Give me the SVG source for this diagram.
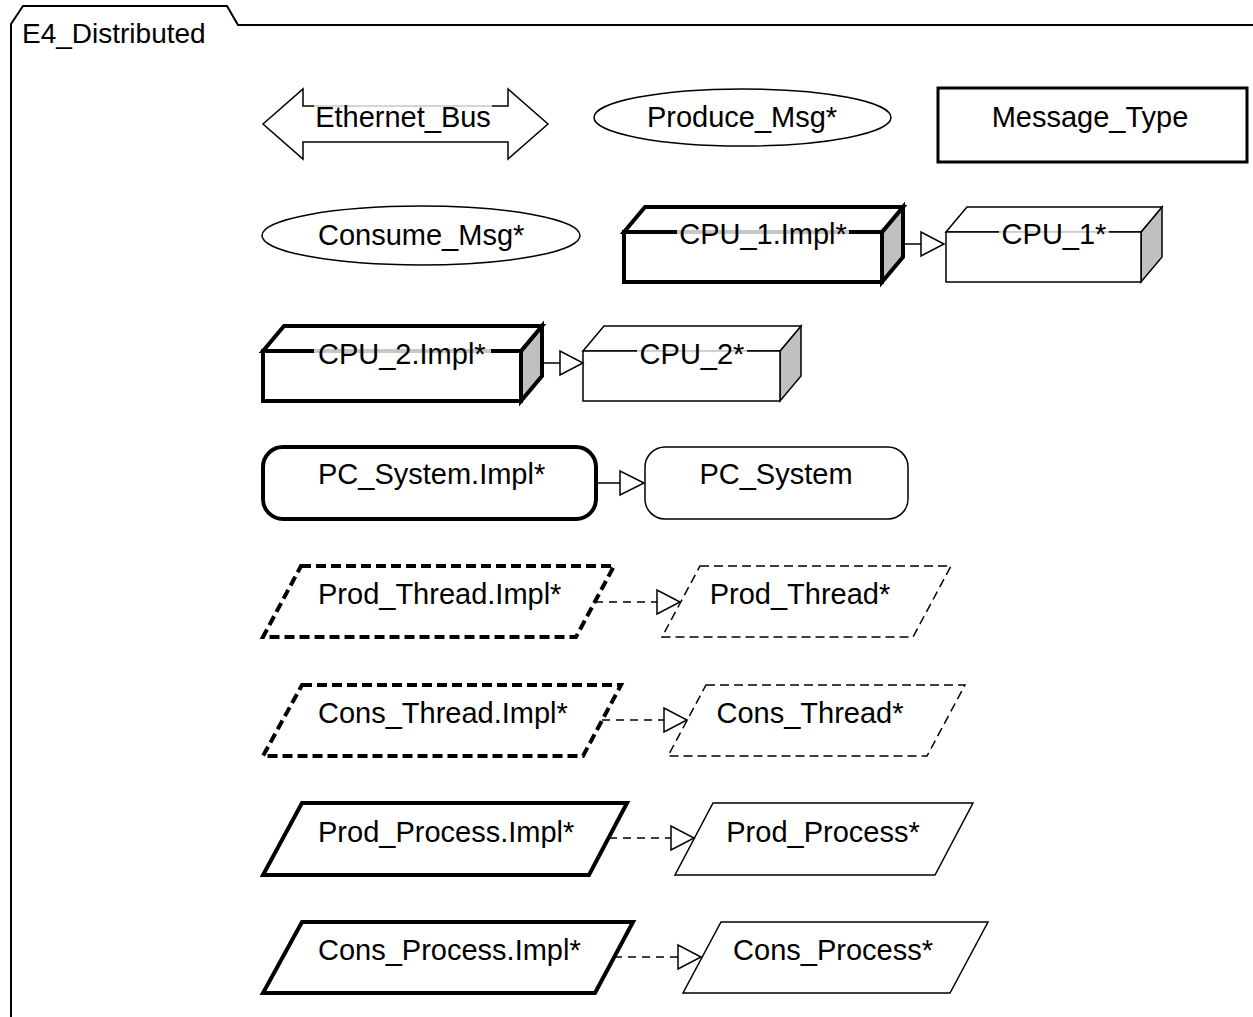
<svg xmlns="http://www.w3.org/2000/svg" width="1253" height="1017" viewBox="0 0 1253 1017">
<style>
text{font-family:"Liberation Sans",Arial,sans-serif;font-size:29px;fill:#000}
.title{font-size:28px}
.thin{fill:#fff;stroke:#000;stroke-width:1.5}
.thick{fill:#fff;stroke:#000;stroke-width:4;stroke-linejoin:miter}
.side{fill:#c0c0c0}
.dthin{fill:#fff;stroke:#000;stroke-width:1.5;stroke-dasharray:9 5}
.dthick{fill:#fff;stroke:#000;stroke-width:4;stroke-dasharray:10 5}
.hl{fill:#fff;fill-opacity:0.78}
.cl{fill:none;stroke:#000;stroke-width:1.5}
.cd{fill:none;stroke:#000;stroke-width:1.5;stroke-dasharray:8 6}
.tri{fill:#fff;stroke:#000;stroke-width:1.5}
</style>
<g id="frame">
<path d="M11,1017 L11,24 L23,6 L227,6 L238,25 L1253,25" fill="none" stroke="#000" stroke-width="2"/>
<text class="title" x="22" y="43">E4_Distributed</text>
</g>
<g id="ethernet_bus">
<path class="thin" d="M263,124 L303,89 L303,106 L508,106 L508,89 L548,124 L508,159 L508,142 L303,142 L303,159 Z"/>
<rect class="hl" x="314" y="103" width="178" height="6"/>
<text x="403" y="127" text-anchor="middle">Ethernet_Bus</text>
</g>
<g id="produce_msg">
<ellipse class="thin" cx="742.5" cy="117.5" rx="148.5" ry="28.5"/>
<text x="742" y="127" text-anchor="middle">Produce_Msg*</text>
</g>
<g id="message_type">
<rect x="938" y="88" width="309" height="74" fill="#fff" stroke="#000" stroke-width="3"/>
<text x="1090" y="127" text-anchor="middle">Message_Type</text>
</g>
<g id="consume_msg">
<ellipse class="thin" cx="421" cy="235.5" rx="159" ry="29.5"/>
<text x="318" y="245">Consume_Msg*</text>
</g>
<g id="cpu_1_impl">
<path class="thick side" d="M882,232 L903,207 L903,257 L882,282 Z"/>
<path class="thick" d="M624,232 L645,207 L903,207 L882,232 Z"/>
<rect class="thick" x="624" y="232" width="258" height="50"/>
<rect class="hl" x="677" y="229" width="172" height="6"/>
<text x="763" y="244" text-anchor="middle">CPU_1.Impl*</text>
</g>
<g id="cpu_1">
<path class="thin side" d="M1141,232 L1162,207 L1162,257 L1141,282 Z"/>
<path class="thin" d="M946,232 L967,207 L1162,207 L1141,232 Z"/>
<rect class="thin" x="946" y="232" width="195" height="50"/>
<rect class="hl" x="999" y="230" width="110" height="4"/>
<text x="1054" y="244" text-anchor="middle">CPU_1*</text>
</g>
<g id="cpu_2_impl">
<path class="thick side" d="M521,351 L542,326 L542,376 L521,401 Z"/>
<path class="thick" d="M263,351 L284,326 L542,326 L521,351 Z"/>
<rect class="thick" x="263" y="351" width="258" height="50"/>
<rect class="hl" x="314" y="348" width="177" height="6"/>
<text x="318" y="364">CPU_2.Impl*</text>
</g>
<g id="cpu_2">
<path class="thin side" d="M780,351 L801,326 L801,376 L780,401 Z"/>
<path class="thin" d="M583,351 L604,326 L801,326 L780,351 Z"/>
<rect class="thin" x="583" y="351" width="197" height="50"/>
<rect class="hl" x="637" y="349" width="110" height="4"/>
<text x="692" y="364" text-anchor="middle">CPU_2*</text>
</g>
<g id="pc_system_impl">
<rect class="thick" x="263" y="447" width="333" height="72" rx="20"/>
<text x="318" y="484">PC_System.Impl*</text>
</g>
<g id="pc_system">
<rect class="thin" x="645" y="447" width="263" height="72" rx="20"/>
<text x="776" y="484" text-anchor="middle">PC_System</text>
</g>
<g id="prod_thread_impl">
<path class="dthick" d="M301,566 L614,566 L576,637 L263,637 Z"/>
<text x="318" y="604">Prod_Thread.Impl*</text>
</g>
<g id="prod_thread">
<path class="dthin" d="M700,566 L951,566 L913,637 L662,637 Z"/>
<text x="800" y="604" text-anchor="middle">Prod_Thread*</text>
</g>
<g id="cons_thread_impl">
<path class="dthick" d="M302,685 L621,685 L583,756 L263,756 Z"/>
<text x="318" y="723">Cons_Thread.Impl*</text>
</g>
<g id="cons_thread">
<path class="dthin" d="M706,685 L965,685 L927,756 L668,756 Z"/>
<text x="810" y="723" text-anchor="middle">Cons_Thread*</text>
</g>
<g id="prod_process_impl">
<path class="thick" d="M302,803 L627,803 L589,875 L263,875 Z"/>
<text x="318" y="842">Prod_Process.Impl*</text>
</g>
<g id="prod_process">
<path class="thin" d="M713,803 L973,803 L935,875 L675,875 Z"/>
<text x="823" y="842" text-anchor="middle">Prod_Process*</text>
</g>
<g id="cons_process_impl">
<path class="thick" d="M302,922 L633,922 L595,993 L263,993 Z"/>
<text x="318" y="960">Cons_Process.Impl*</text>
</g>
<g id="cons_process">
<path class="thin" d="M721,922 L988,922 L950,993 L683,993 Z"/>
<text x="833" y="960" text-anchor="middle">Cons_Process*</text>
</g>
<g id="connectors">
<line class="cl" x1="905" y1="244" x2="921" y2="244"/>
<path class="tri" d="M921,232 L921,256 L944,244 Z"/>
<line class="cl" x1="544" y1="363" x2="560" y2="363"/>
<path class="tri" d="M560,351 L560,375 L583,363 Z"/>
<line class="cl" x1="598" y1="483" x2="620" y2="483"/>
<path class="tri" d="M620,471 L620,495 L644,483 Z"/>
<line class="cd" x1="595" y1="602" x2="657" y2="602"/>
<path class="tri" d="M657,590 L657,614 L680,602 Z"/>
<line class="cd" x1="602" y1="720" x2="664" y2="720"/>
<path class="tri" d="M664,708 L664,732 L687,720 Z"/>
<line class="cd" x1="609" y1="838" x2="671" y2="838"/>
<path class="tri" d="M671,826 L671,850 L694,838 Z"/>
<line class="cd" x1="614" y1="957" x2="678" y2="957"/>
<path class="tri" d="M678,945 L678,969 L701,957 Z"/>
</g>
</svg>
